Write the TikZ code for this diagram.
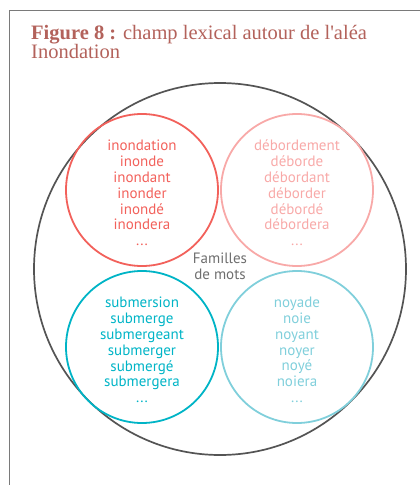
\documentclass[tikz,border=0pt]{standalone}
\usepackage{fontspec}
\setmainfont{Liberation Serif}
\newfontfamily\wordfont{PT Sans}
\definecolor{titlecol}{HTML}{B3625B}
\definecolor{framecol}{HTML}{7A7A7A}
\definecolor{bigcol}{HTML}{545454}
\definecolor{redcol}{HTML}{F2615B}
\definecolor{pinkcol}{HTML}{F8A9A8}
\definecolor{tealcol}{HTML}{00B4C6}
\definecolor{bluecol}{HTML}{80CFDB}
\definecolor{labelcol}{HTML}{6E6E6E}
\tikzset{
  family/.style={circle, draw=#1, line width=1.8pt, minimum size=152pt, inner sep=0pt},
  words/.style={text=#1, align=center, font=\wordfont\fontsize{15}{15.8}\selectfont, inner sep=0pt},
}
\begin{document}
\begin{tikzpicture}[x=1pt,y=-1pt]
  \useasboundingbox (0,0) rectangle (420,485);
  % page frame
  \draw[framecol, line width=1pt] (420,10) -- (9.5,10) -- (9.5,485);
  % title
  \node[anchor=north west, align=left, text=titlecol, inner sep=0pt,
        font=\fontsize{20.5}{19.5}\selectfont] (title) at (31,25)
    {\textbf{Figure 8 :} champ lexical autour de l\textquotesingle aléa\\Inondation};
  % enclosing circle
  \node[circle, draw=bigcol, line width=1.7pt, minimum size=372pt, inner sep=0pt] (all) at (220,269) {};
  % four word families
  \node[family=redcol]   (c1) at (142,190) {};
  \node[family=pinkcol]  (c2) at (297,190) {};
  \node[family=tealcol]  (c3) at (142,347) {};
  \node[family=bluecol]  (c4) at (297,347) {};
  \node[words=redcol]  (w1) at (142,193) {inondation\\inonde\\inondant\\inonder\\inondé\\inondera\\...};
  \node[words=pinkcol] (w2) at (297,193) {débordement\\déborde\\débordant\\déborder\\débordé\\débordera\\...};
  \node[words=tealcol] (w3) at (142,350) {submersion\\submerge\\submergeant\\submerger\\submergé\\submergera\\...};
  \node[words=bluecol] (w4) at (297,350) {noyade\\noie\\noyant\\noyer\\noyé\\noiera\\...};
  \node[words=labelcol] (lab) at (220,266) {Familles\\de mots};
\end{tikzpicture}
\end{document}
